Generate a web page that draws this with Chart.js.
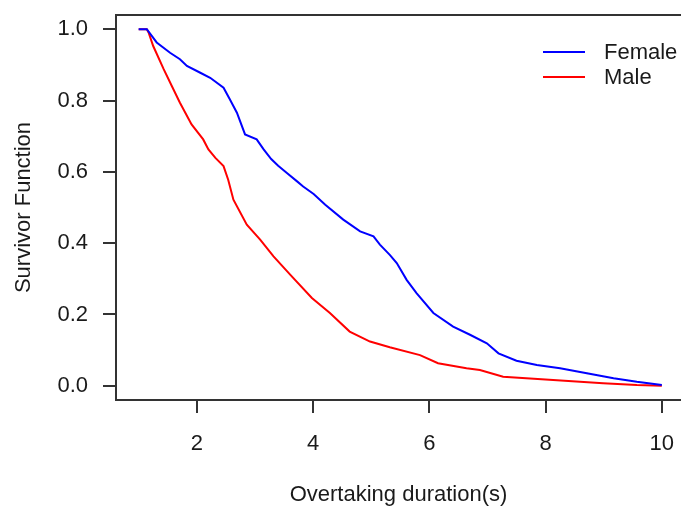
<!DOCTYPE html>
<html>
<head>
<meta charset="utf-8">
<script src="https://cdn.jsdelivr.net/npm/chart.js@4"></script>
<style>
html, body { margin: 0; padding: 0; background: #fff; }
canvas { display: block; }
</style>
</head>
<body>
<canvas id="chart" width="681" height="508"></canvas>
<script>
// Kaplan-Meier curves
var femaleX = [1.0, 1.14, 1.31, 1.54, 1.71, 1.83, 2.06, 2.23, 2.46, 2.57, 2.69, 2.83, 3.03, 3.15, 3.28, 3.40, 3.55, 3.72, 3.83, 4.01, 4.21, 4.52, 4.81, 5.04, 5.15, 5.32, 5.44, 5.61, 5.78, 6.07, 6.41, 6.70, 6.99, 7.19, 7.50, 7.85, 8.25, 8.71, 9.17, 9.57, 10.0];
var femaleY = [1.0, 1.0, 0.963, 0.934, 0.916, 0.897, 0.878, 0.864, 0.836, 0.803, 0.766, 0.705, 0.691, 0.663, 0.636, 0.617, 0.597, 0.574, 0.559, 0.538, 0.508, 0.466, 0.433, 0.419, 0.396, 0.367, 0.344, 0.297, 0.260, 0.204, 0.166, 0.143, 0.119, 0.091, 0.070, 0.058, 0.049, 0.035, 0.021, 0.011, 0.002];

var maleX = [1.0, 1.14, 1.17, 1.25, 1.43, 1.57, 1.71, 1.91, 2.11, 2.20, 2.32, 2.46, 2.54, 2.63, 2.86, 3.09, 3.32, 3.61, 3.98, 4.29, 4.63, 4.98, 5.32, 5.84, 6.15, 6.64, 6.87, 7.27, 8.13, 8.99, 9.57, 10.0];
var maleY = [1.0, 1.0, 0.991, 0.953, 0.888, 0.841, 0.794, 0.733, 0.691, 0.663, 0.639, 0.616, 0.578, 0.522, 0.452, 0.410, 0.363, 0.311, 0.246, 0.204, 0.152, 0.124, 0.108, 0.086, 0.063, 0.049, 0.044, 0.025, 0.016, 0.007, 0.002, 0.0];

var SERIES_NAMES = ["Female", "Male"];
var SERIES_COLORS = ["#0000ff", "#ff0000"];
var X_TICKS = [2, 4, 6, 8, 10];
var Y_TICKS = [0, 0.2, 0.4, 0.6, 0.8, 1.0];

var FONT = "'Liberation Sans', Arial, sans-serif";
var INK = "#1a1a1a";
var AXIS = "#333333";

function toPoints(xs, ys) {
    return xs.map(function(x, i) { return { x: x, y: ys[i] }; });
}

// no extra room for edge labels, the box runs right to the edges
function noEdgePadding(scale) {
    scale.paddingTop = 0;
    scale.paddingBottom = 0;
    scale.paddingLeft = 0;
    scale.paddingRight = 0;
}

// top edge of the R-style box (right side is cut off in the picture)
var frameTop = {
    id: "frameTop",
    afterDraw: function(chart) {
        var a = chart.chartArea;
        var ctx = chart.ctx;
        ctx.save();
        ctx.strokeStyle = AXIS;
        ctx.lineWidth = 2;
        ctx.beginPath();
        ctx.moveTo(a.left - 1, a.top);
        ctx.lineTo(a.right, a.top);
        ctx.stroke();
        ctx.restore();
    }
};

// legend inside the plot, top right, line samples
var lineLegend = {
    id: "lineLegend",
    afterDraw: function(chart) {
        var a = chart.chartArea;
        var ctx = chart.ctx;
        ctx.save();
        ctx.font = "22px " + FONT;
        ctx.textBaseline = "middle";
        ctx.textAlign = "left";
        chart.data.datasets.forEach(function(ds, i) {
            var y = a.top + 37 + i * 25;
            ctx.strokeStyle = ds.borderColor;
            ctx.lineWidth = 2;
            ctx.beginPath();
            ctx.moveTo(a.right - 138, y);
            ctx.lineTo(a.right - 96, y);
            ctx.stroke();
            ctx.fillStyle = INK;
            ctx.fillText(ds.label, a.right - 77, y + 1);
        });
        ctx.restore();
    }
};

function buildChart() {
    var datasets = [
        { label: SERIES_NAMES[0], data: toPoints(femaleX, femaleY), borderColor: SERIES_COLORS[0] },
        { label: SERIES_NAMES[1], data: toPoints(maleX, maleY), borderColor: SERIES_COLORS[1] }
    ].map(function(ds) {
        ds.borderWidth = 2;
        ds.pointRadius = 0;
        ds.tension = 0;
        ds.fill = false;
        return ds;
    });

    var ctx = document.getElementById("chart").getContext("2d");
    new Chart(ctx, {
        type: "line",
        data: { datasets: datasets },
        plugins: [frameTop, lineLegend],
        options: {
            responsive: false,
            animation: false,
            layout: { padding: { top: 15, left: 0, right: 0, bottom: 0 } },
            plugins: {
                legend: { display: false },
                tooltip: { enabled: false }
            },
            scales: {
                x: {
                    type: "linear",
                    min: 0.61,
                    max: 10.33,
                    afterBuildTicks: function(scale) {
                        scale.ticks = X_TICKS.map(function(v) { return { value: v }; });
                    },
                    afterFit: function(scale) {
                        scale.height = 108;
                        noEdgePadding(scale);
                    },
                    grid: { drawOnChartArea: false, drawTicks: true, tickLength: 13, color: AXIS, lineWidth: 2 },
                    border: { display: true, color: AXIS, width: 2 },
                    ticks: {
                        padding: 18,
                        maxRotation: 0,
                        color: INK,
                        font: { family: FONT, size: 22 },
                        callback: function(v) { return String(v); }
                    },
                    title: {
                        display: true,
                        text: "Overtaking duration(s)",
                        color: INK,
                        font: { family: FONT, size: 22 },
                        padding: { top: 0, bottom: 0 }
                    }
                },
                y: {
                    type: "linear",
                    min: -0.04,
                    max: 1.04,
                    afterBuildTicks: function(scale) {
                        scale.ticks = Y_TICKS.map(function(v) { return { value: v }; });
                    },
                    afterFit: function(scale) {
                        scale.width = 116;
                        noEdgePadding(scale);
                    },
                    grid: { drawOnChartArea: false, drawTicks: true, tickLength: 13, color: AXIS, lineWidth: 2 },
                    border: { display: true, color: AXIS, width: 2 },
                    ticks: {
                        padding: 15,
                        color: INK,
                        font: { family: FONT, size: 22 },
                        callback: function(v) { return v.toFixed(1); }
                    },
                    title: {
                        display: true,
                        text: "Survivor Function",
                        color: INK,
                        font: { family: FONT, size: 22 },
                        padding: { top: 11, bottom: 0 }
                    }
                }
            }
        }
    });
}

document.addEventListener("DOMContentLoaded", buildChart);
</script>
</body>
</html>
